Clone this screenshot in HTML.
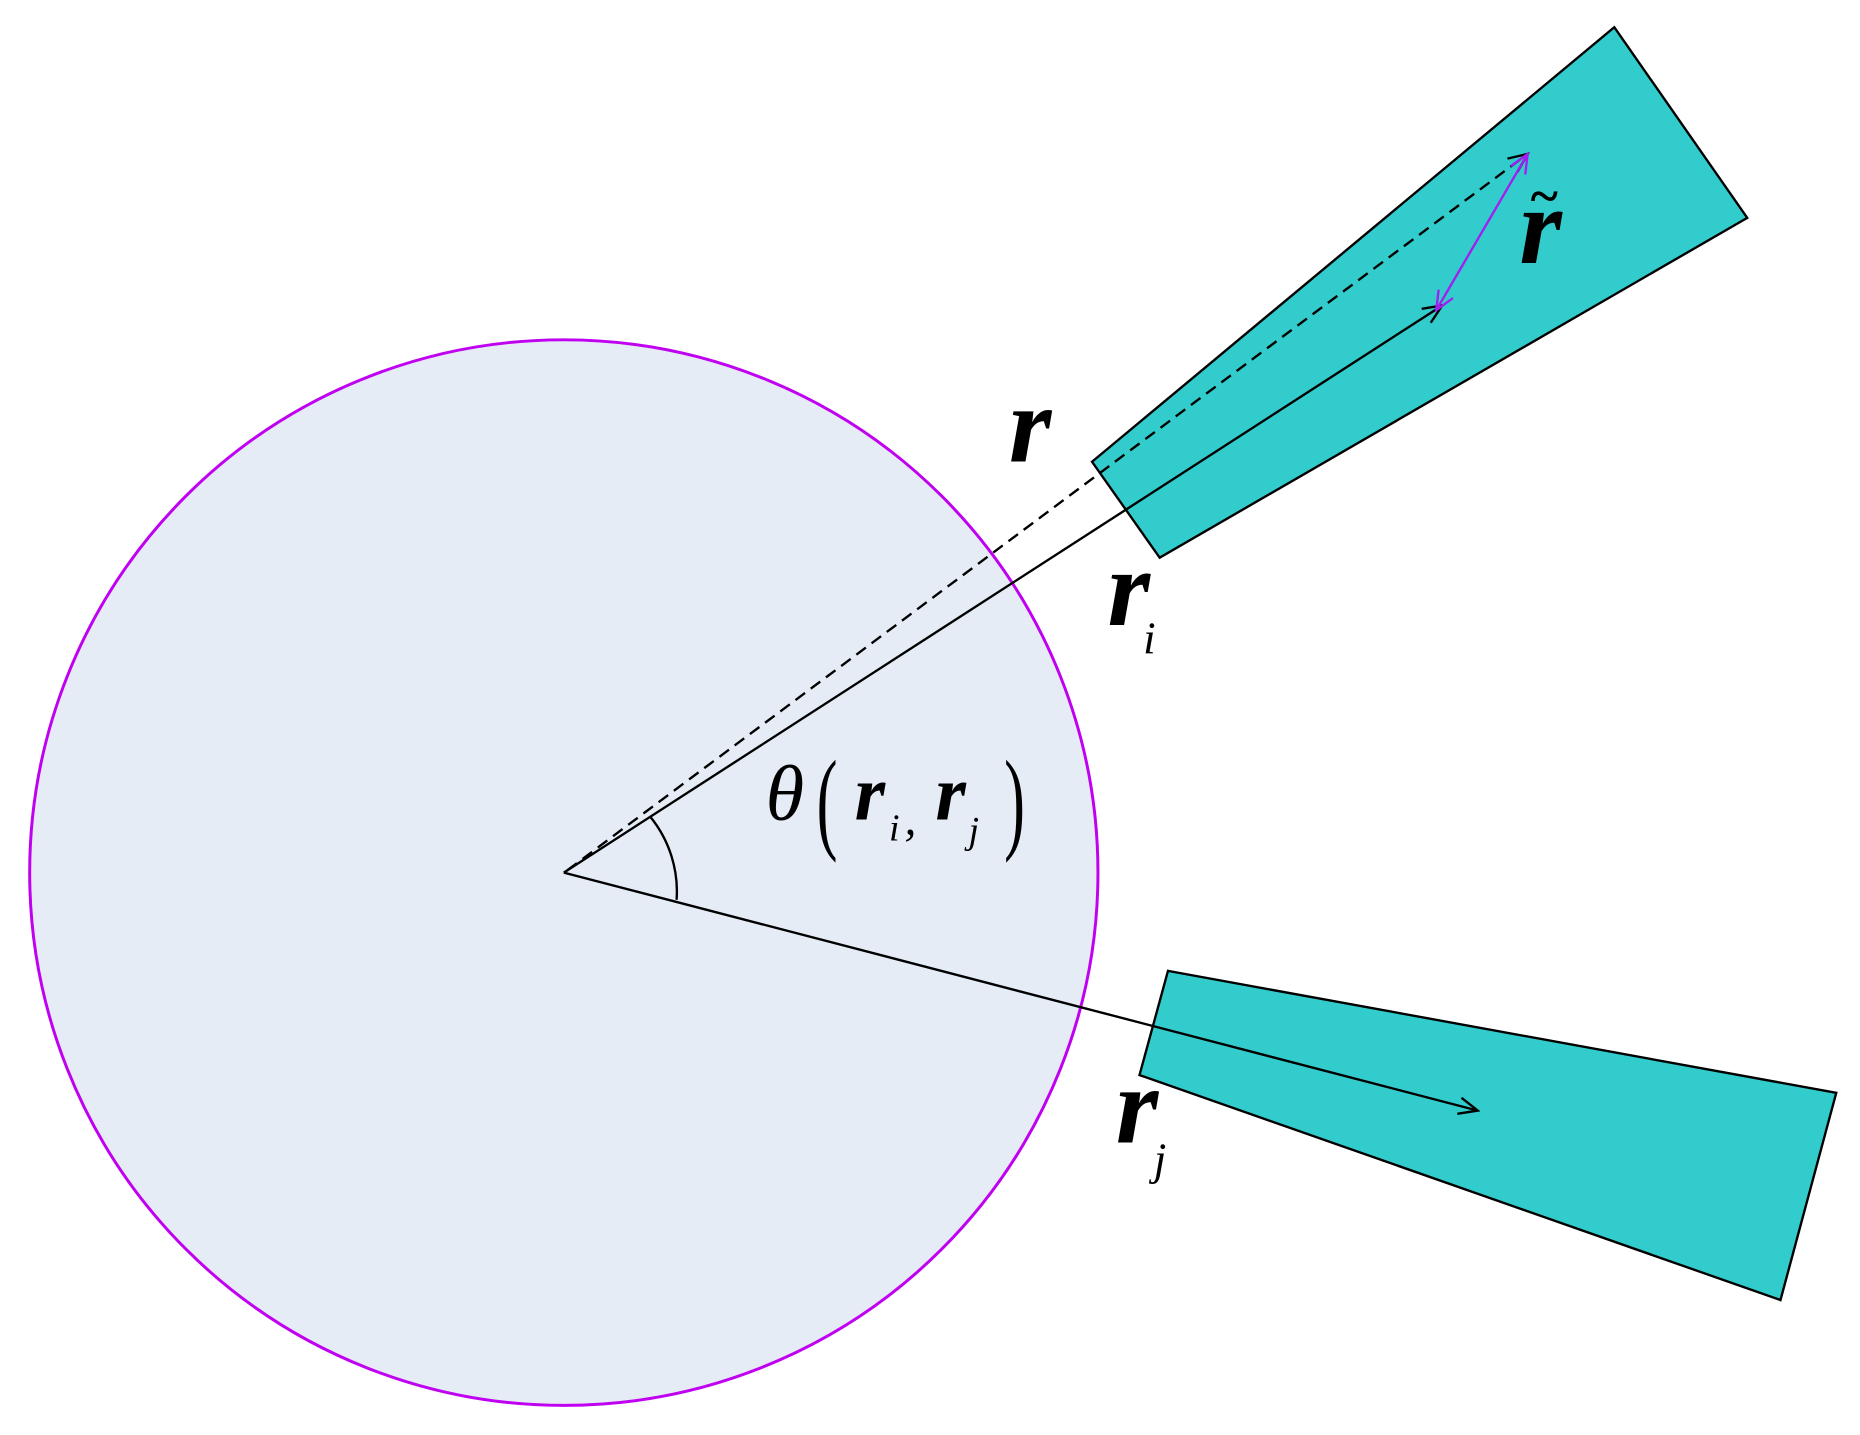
<!DOCTYPE html>
<html><head><style>html,body{margin:0;padding:0;background:#fff}svg{display:block}</style></head>
<body>
<svg width="1860" height="1435" viewBox="0 0 1567 1212" preserveAspectRatio="none" xmlns="http://www.w3.org/2000/svg">
<defs>
<marker id="ab" markerWidth="20" markerHeight="20" refX="18" refY="10" orient="auto" markerUnits="userSpaceOnUse"><path d="M2,3 L18,10 L2,17" fill="none" stroke="#000" stroke-width="2"/></marker>
<marker id="ap" markerWidth="20" markerHeight="20" refX="18" refY="10" orient="auto-start-reverse" markerUnits="userSpaceOnUse"><path d="M2,3 L18,10 L2,17" fill="none" stroke="#a020f0" stroke-width="2"/></marker>
</defs>
<ellipse cx="475" cy="737" rx="450" ry="450" fill="#e5ecf6" stroke="#c000f0" stroke-width="2.5"/>
<polygon points="920,390 1360,23 1472,184 977,471" fill="#33cccc" stroke="#000" stroke-width="2"/>
<polygon points="984,820 1547,923 1500,1098 960,908" fill="#33cccc" stroke="#000" stroke-width="2"/>
<line x1="475" y1="737" x2="1215" y2="258" stroke="#000" stroke-width="2" marker-end="url(#ab)"/>
<line x1="478" y1="735" x2="1287" y2="130" stroke="#000" stroke-width="2" stroke-dasharray="10,6" marker-end="url(#ab)"/>
<line x1="1287" y1="130" x2="1210" y2="262" stroke="#a020f0" stroke-width="2" marker-start="url(#ap)" marker-end="url(#ap)"/>
<line x1="475" y1="737" x2="1245" y2="938" stroke="#000" stroke-width="2" marker-end="url(#ab)"/>
<path d="M548,690 A100,100 0 0 1 570,760" fill="none" stroke="#000" stroke-width="2"/>
<g font-family="Liberation Serif, serif" font-style="italic" fill="#000">
<text x="850" y="390" font-size="92" font-weight="bold">r</text>
<text x="933" y="528" font-size="92" font-weight="bold">r</text>
<text x="963" y="552" font-size="38">i</text>
<text x="1280" y="222" font-size="92" font-weight="bold">r</text>
<text x="1288" y="180" font-size="44" font-weight="bold">~</text>
<text x="940" y="965" font-size="92" font-weight="bold">r</text>
<text x="972" y="992" font-size="38">j</text>
<text x="645" y="692" font-size="66">θ</text>
<text x="688" y="708" font-size="96" font-style="normal" transform="scale(0.55,1)" transform-origin="688 708">(</text>
<text x="720" y="692" font-size="66" font-weight="bold">r</text>
<text x="749" y="710" font-size="32">i</text>
<text x="762" y="705" font-size="40">,</text>
<text x="788" y="692" font-size="66" font-weight="bold">r</text>
<text x="816" y="712" font-size="32">j</text>
<text x="846" y="708" font-size="96" font-style="normal" transform="scale(0.55,1)" transform-origin="846 708">)</text>
</g>
</svg>
</body></html>
